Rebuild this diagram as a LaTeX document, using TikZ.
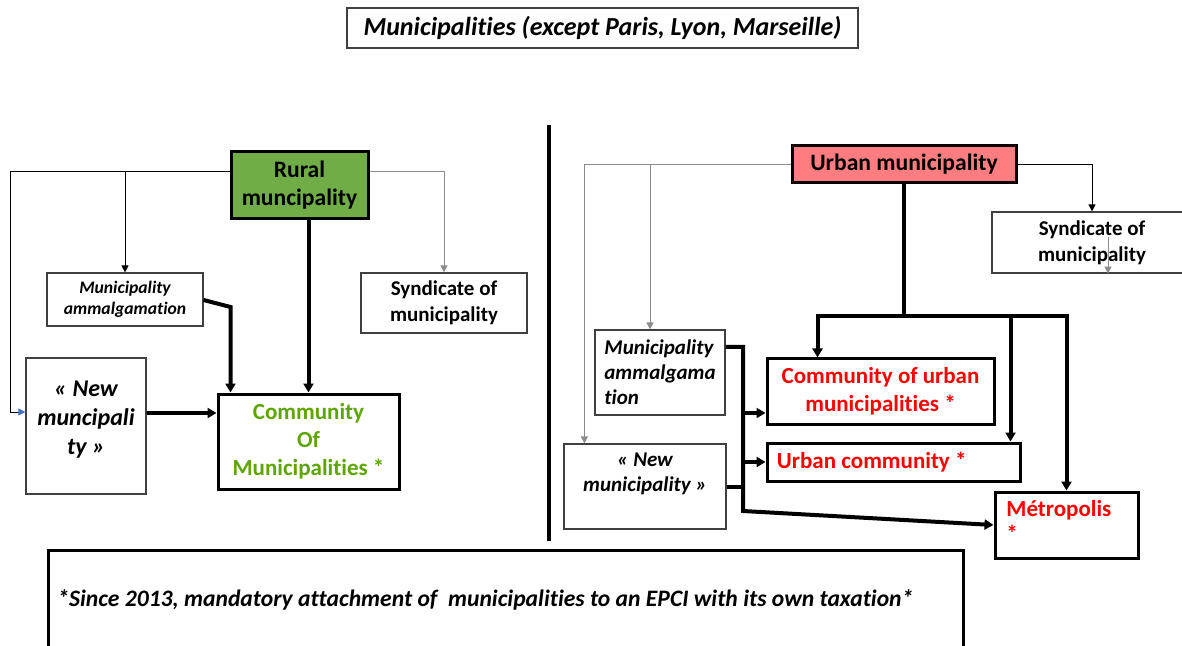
\documentclass[tikz,border=0pt]{standalone}
\usepackage{fontspec}
\setmainfont{Carlito}[Ligatures=NoCommon]
\usetikzlibrary{arrows.meta,calc}
\definecolor{rgreen}{HTML}{70AD47}
\definecolor{tgreen}{HTML}{5EA500}
\definecolor{upink}{HTML}{FF7C80}
\definecolor{bord}{HTML}{404040}
\definecolor{lgray}{HTML}{8C8C8C}
\definecolor{tipblue}{HTML}{4472C4}
\begin{document}
\begin{tikzpicture}[x=0.5pt,y=-0.5pt,
  box/.style={draw=bord, line width=0.6pt, fill=white, inner sep=2pt, align=center},
  bigbox/.style={draw=black, line width=1.5pt, fill=white, inner sep=2pt, align=center},
  thinln/.style={line width=0.5pt},
  thk/.style={line width=2pt},
  tip/.style={-{Triangle[length=3.5pt,width=3.5pt]}},
  bigtip/.style={-{Triangle[length=4.5pt,width=5pt]}},
  fA/.style={font=\fontsize{11.8}{14}\selectfont\bfseries},
]
\useasboundingbox (0,0) rectangle (1182,646);
\clip (0,0) rectangle (1182,646);

% title
\node[box, minimum width=255.5pt, minimum height=20pt, font=\fontsize{13}{15}\selectfont\bfseries\itshape] (title) at (602.5,28) {Municipalities (except Paris, Lyon, Marseille)};

% divider
\draw[line width=2pt] (549,125) -- (549,541);

% ---------- left part
\node[bigbox, fill=rgreen, minimum width=68.5pt, minimum height=33.5pt, fA] (rural) at (299.5,185.5) {Rural\\muncipality};
\node[box, minimum width=78pt, minimum height=26.5pt, font=\fontsize{8.8}{10.5}\selectfont\bfseries\itshape] (amalL) at (125,299.5) {Municipality\\ammalgamation};
\node[box, minimum width=83pt, minimum height=30pt, font=\fontsize{10.5}{13}\selectfont\bfseries] (syndL) at (444,303) {Syndicate of\\municipality};
\node[box, minimum width=60pt, minimum height=68pt] (newL) at (86,426) {};
\node[align=center, inner sep=0, font=\fontsize{12}{14.5}\selectfont\bfseries\itshape] (newLt) at (86,420) {« New\\muncipali\\ty »};
\node[bigbox, minimum width=90.5pt, minimum height=47.5pt, text=tgreen, font=\fontsize{11.5}{14}\selectfont\bfseries] (comL) at (308.5,441.5) {Community\\Of\\Municipalities *};

\draw[thinln, -{Triangle[length=3.5pt,width=3.5pt,color=tipblue]}] (rural.west |- 0,172) -| (10,412) -- (newL.west |- 0,412);
\draw[thinln, tip] (amalL.north |- 0,172) -- (amalL.north);
\draw[thinln, draw=lgray, tip] (rural.east |- 0,172) -| (syndL.north);

\coordinate (cLa) at ([xshift=7pt]comL.north west);
\draw[thk, bigtip] (rural.south -| comL.north) -- (comL.north);
\draw[thk, bigtip] (amalL.east |- 0,300) -- (cLa |- 0,307) -- (cLa);
\draw[thk, bigtip] (newL.east |- 0,413) -- (comL.west |- 0,413);

% ---------- right part
\node[bigbox, fill=upink, minimum width=112pt, minimum height=18.5pt, fA] (urban) at (904,164.5) {Urban municipality};
\node[box, minimum width=100pt, minimum height=30.5pt, font=\fontsize{10.5}{13}\selectfont\bfseries] (syndR) at (1092,242.5) {Syndicate of\\municipality};
\node[box, minimum width=65pt, minimum height=42.5pt, align=left, font=\fontsize{10.5}{12.5}\selectfont\bfseries\itshape] (amalR) at (660,372.5) {Municipality\\ammalgama\\tion};
\node[box, minimum width=81pt, minimum height=42.5pt] (newR) at (645,486.5) {};
\node[align=center, inner sep=0, font=\fontsize{10.5}{12.5}\selectfont\bfseries\itshape] (newRt) at (645,474) {« New\\municipality »};
\node[bigbox, minimum width=113.5pt, minimum height=32.5pt, text=red, font=\fontsize{11.5}{14}\selectfont\bfseries] (comU) at (880.5,391.5) {Community of urban\\municipalities *};
\node[bigbox, minimum width=126.5pt, minimum height=19pt] (urbC) at (893.5,462) {};
\node[anchor=west, inner sep=0, text=red, font=\fontsize{11.5}{14}\selectfont\bfseries] (urbCt) at ([xshift=5.5pt]urbC.west) {Urban community *};
\node[bigbox, minimum width=71.5pt, minimum height=33pt] (metro) at (1066.5,525) {};
\node[anchor=north west, align=left, inner sep=0, text=red, font=\fontsize{11.5}{12.5}\selectfont\bfseries] (metrot) at (1006,500) {Métropolis\\*};

\coordinate (nRa) at ([xshift=10.5pt]newR.north west);
\coordinate (aRa) at ([xshift=-5pt]amalR.north);
\draw[thinln, draw=lgray, tip] (urban.west) -| (nRa);
\draw[thinln, draw=lgray, tip] (aRa |- urban.west) -- (aRa);
\draw[thinln, tip] (urban.east) -| (syndR.north);
\coordinate (sa) at (1108,237);
\draw[thinln, draw=lgray, tip] (sa) -- (sa |- syndR.south);

\coordinate (uj) at (urban.south |- 0,316);
\coordinate (cUa) at ([xshift=26pt]comU.north west);
\coordinate (uCa) at ([xshift=-5.5pt]urbC.north east);
\draw[thk] (urban.south) -- (uj);
\draw[thk, bigtip] (uj) -| (cUa);
\draw[thk, bigtip] (uj) -| (uCa);
\draw[thk, bigtip] (uj) -| (metro.north);

\coordinate (bus) at (743,0);
\draw[thk, bigtip] (amalR.east |- 0,347) -- (bus |- 0,347) -- (bus |- 0,511) -- (metro.west);
\draw[thk, bigtip] (bus |- 0,413) -- (comU.west |- 0,413);
\draw[thk, bigtip] (bus |- urbC.west) -- (urbC.west);
\draw[thk] (newR.east |- 0,487) -- (bus |- 0,487);

% footnote
\node[draw, line width=1.5pt, minimum width=457.5pt, minimum height=60pt, anchor=north west] (foot) at (47,549) {};
\node[anchor=west, inner sep=0, font=\fontsize{11.8}{13}\selectfont\bfseries\itshape] (foott) at (57,600) {*Since 2013, mandatory attachment of\ \ municipalities to an EPCI with its own taxation*};
\end{tikzpicture}
\end{document}
